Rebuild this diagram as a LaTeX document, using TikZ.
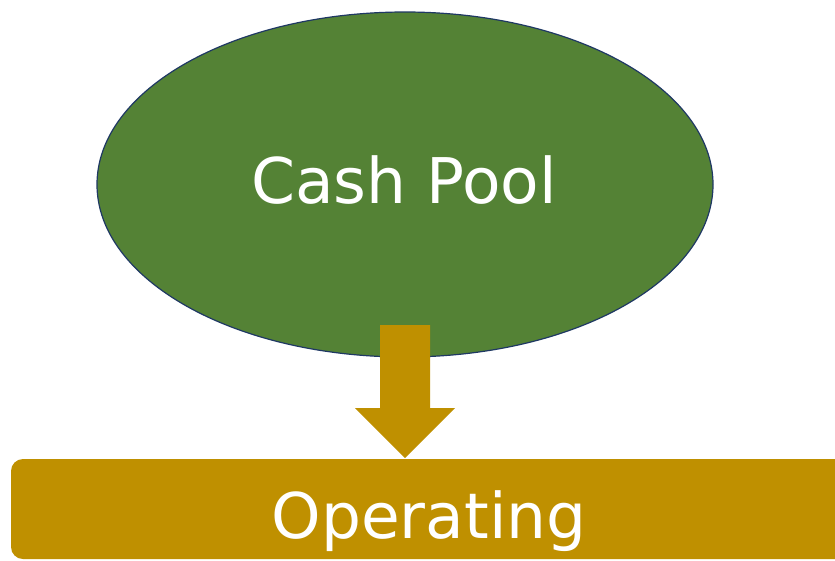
\documentclass[tikz,border=0pt]{standalone}
\usepackage{fontspec}
\setmainfont{DejaVu Sans}
\definecolor{poolgreen}{HTML}{548235}
\definecolor{pooledge}{HTML}{1F3864}
\definecolor{gold}{HTML}{BF9000}
\tikzset{
  label/.style={text=white, font=\fontsize{63}{70}\selectfont, inner sep=0pt, anchor=base},
}
\begin{document}
\begin{tikzpicture}[x=1pt,y=-1pt]
  \useasboundingbox (0,0) rectangle (835,560);
  % cash pool ellipse
  \fill[poolgreen, draw=pooledge, line width=1.2pt] (405,184.5) ellipse [x radius=308, y radius=172.5];
  \node[label] (pool) at (404,203) {Cash Pool};
  % downward block arrow
  \fill[gold] (380,325) -- (430,325) -- (430,408) -- (455,408) -- (405,458)
    -- (355,408) -- (380,408) -- cycle;
  \coordinate (tip) at (405,458);
  % operating bar, running off the right edge
  \begin{scope}
    \clip (0,0) rectangle (835,560);
    \fill[gold, rounded corners=12pt] (11,459) rectangle (880,559);
  \end{scope}
  \node[label] (op) at (429,538) {Operating};
\end{tikzpicture}
\end{document}
